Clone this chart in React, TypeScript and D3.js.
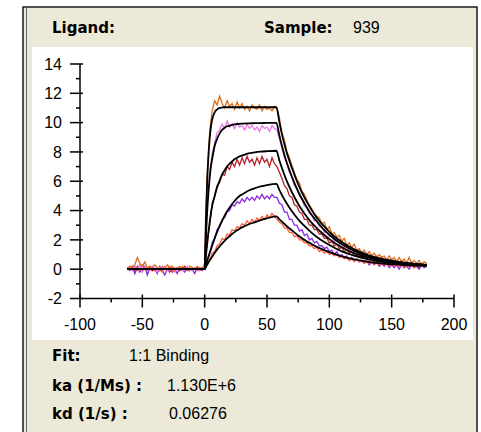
import React from 'react';
import * as d3 from 'd3';

// Sample times of the recorded sensorgrams (s)
const TIMES = d3.range(-62, 179, 2);

const ORANGE_DATA = [
  0.1, 0.2, 0.1, 0.3, 0.8, 0.4, 0.2, 0.5, 0.1, 0.2, 0.0, 0.3, 0.1, -0.1, 0.2, 0.0, 0.3, 0.1, 0.2, -0.1, 0.1, 0.2, 0.0, 0.1, -0.1, 0.2, 0.1, 0.0, 0.2, 0.1, 0.0,
  0.4, 6.3, 9.4, 10.8, 11.5, 11.2, 11.8, 11.3, 11.0, 11.5, 11.1, 11.3, 10.9, 11.4, 11.0, 11.3, 10.9, 11.1, 10.8, 11.2, 11.0, 10.9, 11.2, 10.8, 11.1, 10.9, 11.0, 10.8, 11.1,
  11.0, 10.3, 9.3, 8.8, 8.0, 7.6, 7.1, 6.6, 6.1, 5.9, 5.3, 5.1, 4.7, 4.4, 4.1, 3.8, 3.6, 3.5, 3.1, 3.2, 2.7, 2.9, 2.4, 2.5, 2.2, 2.3, 1.9, 2.1, 1.6, 1.8, 1.5, 1.7, 1.3, 1.4, 1.1, 1.3, 1.0, 1.2, 0.9, 1.1, 0.8, 1.0, 0.8, 0.9, 0.6, 0.9, 0.6, 0.8, 0.5, 0.8, 0.5, 0.7, 0.4, 0.8, 0.4, 0.6, 0.4, 0.6, 0.3, 0.5, 0.4,
];
const PINK_DATA = [
  0.0, 0.1, -0.1, 0.2, 0.0, 0.3, -0.2, 0.1, 0.0, -0.1, 0.2, 0.0, -0.2, 0.1, 0.0, 0.2, -0.1, 0.0, 0.1, -0.2, 0.0, 0.1, -0.1, 0.0, 0.2, -0.1, 0.0, 0.1, -0.1, 0.0, 0.1,
  0.2, 4.3, 6.6, 7.9, 8.6, 9.3, 9.5, 9.9, 9.6, 10.1, 9.7, 9.9, 9.6, 10.0, 9.7, 9.8, 9.5, 9.9, 9.6, 9.8, 9.5, 9.7, 9.4, 9.8, 9.6, 9.7, 9.4, 9.8, 9.6,
  9.5, 8.9, 8.3, 7.6, 7.2, 6.6, 6.3, 5.7, 5.5, 5.0, 4.8, 4.3, 4.2, 3.8, 3.7, 3.3, 3.3, 2.9, 2.9, 2.5, 2.5, 2.2, 2.3, 1.9, 2.0, 1.7, 1.8, 1.5, 1.6, 1.3, 1.5, 1.2, 1.3, 1.0, 1.2, 0.9, 1.0, 0.8, 1.0, 0.7, 0.9, 0.6, 0.8, 0.6, 0.7, 0.5, 0.7, 0.4, 0.6, 0.4, 0.6, 0.3, 0.5, 0.3, 0.5, 0.3, 0.4, 0.2, 0.4, 0.2, 0.4,
];
const RED_DATA = [
  0.1, 0.0, 0.1, -0.1, 0.2, 0.0, -0.1, 0.1, 0.0, 0.2, -0.1, 0.0, 0.1, -0.1, 0.0, 0.1, 0.0, -0.2, 0.1, 0.0, 0.1, -0.1, 0.0, 0.2, 0.0, -0.1, 0.1, 0.0, -0.1, 0.1, 0.0,
  0.1, 1.9, 3.0, 4.5, 4.9, 5.7, 5.9, 6.5, 6.4, 7.0, 6.8, 7.3, 7.0, 7.5, 7.1, 7.6, 7.2, 7.7, 7.3, 7.5, 7.1, 7.6, 7.2, 7.7, 7.3, 7.5, 7.0, 7.6, 7.2,
  7.0, 6.6, 6.2, 5.7, 5.5, 5.0, 4.9, 4.4, 4.3, 3.9, 3.8, 3.4, 3.4, 3.0, 3.0, 2.7, 2.7, 2.4, 2.4, 2.1, 2.1, 1.8, 1.9, 1.6, 1.7, 1.4, 1.5, 1.2, 1.3, 1.1, 1.2, 0.9, 1.0, 0.8, 0.9, 0.7, 0.8, 0.6, 0.7, 0.5, 0.7, 0.5, 0.6, 0.4, 0.5, 0.3, 0.5, 0.3, 0.4, 0.3, 0.4, 0.2, 0.4, 0.2, 0.3, 0.2, 0.3, 0.1, 0.3, 0.2, 0.3,
];
const PURPLE_DATA = [
  0.1, -0.1, 0.2, -0.3, 0.1, -0.2, 0.0, 0.2, -0.4, 0.1, -0.1, 0.0, -0.3, 0.2, -0.1, -0.4, 0.0, 0.1, -0.2, 0.0, -0.3, 0.1, 0.0, -0.2, 0.1, -0.1, 0.0, -0.3, 0.1, 0.0, -0.1,
  0.1, 0.7, 1.1, 1.8, 2.1, 2.7, 2.9, 3.4, 3.5, 3.9, 4.0, 4.4, 4.3, 4.6, 4.5, 4.8, 4.6, 4.9, 4.7, 4.9, 4.7, 5.0, 4.8, 5.1, 4.8, 5.0, 4.8, 5.1, 4.9,
  4.9, 4.5, 4.4, 3.9, 3.9, 3.4, 3.4, 3.0, 3.0, 2.6, 2.7, 2.3, 2.4, 2.0, 2.1, 1.8, 1.9, 1.6, 1.6, 1.4, 1.5, 1.2, 1.3, 1.0, 1.2, 0.9, 1.0, 0.8, 0.9, 0.6, 0.8, 0.6, 0.7, 0.5, 0.6, 0.4, 0.6, 0.3, 0.5, 0.3, 0.5, 0.2, 0.4, 0.2, 0.4, 0.1, 0.3, 0.1, 0.3, 0.0, 0.3, 0.1, 0.2, 0.0, 0.3, 0.1, 0.2, 0.0, 0.3, 0.1, 0.2,
];
const SALMON_DATA = [
  0.0, 0.1, 0.0, 0.2, -0.1, 0.0, 0.3, 0.1, -0.1, 0.0, 0.2, -0.1, 0.1, 0.0, -0.2, 0.1, 0.0, 0.2, -0.1, 0.1, 0.0, -0.1, 0.2, 0.0, 0.1, -0.1, 0.0, 0.1, 0.0, -0.1, 0.1,
  0.1, 0.5, 0.6, 1.1, 1.2, 1.6, 1.7, 2.1, 2.0, 2.4, 2.3, 2.7, 2.6, 2.9, 2.8, 3.1, 3.0, 3.3, 3.1, 3.4, 3.2, 3.5, 3.3, 3.6, 3.4, 3.7, 3.5, 3.8, 3.6,
  3.4, 3.2, 3.1, 2.8, 2.8, 2.5, 2.5, 2.2, 2.3, 2.0, 2.0, 1.8, 1.8, 1.6, 1.6, 1.4, 1.5, 1.2, 1.3, 1.1, 1.2, 1.0, 1.1, 0.9, 1.0, 0.8, 0.9, 0.7, 0.8, 0.6, 0.7, 0.5, 0.7, 0.5, 0.6, 0.4, 0.5, 0.4, 0.5, 0.3, 0.5, 0.3, 0.4, 0.3, 0.4, 0.2, 0.4, 0.2, 0.3, 0.2, 0.3, 0.1, 0.3, 0.2, 0.3, 0.1, 0.3, 0.2, 0.3, 0.2, 0.3,
];

// Fitted 1:1 binding curves (RU)
const FIT_TIMES = [-62, 0, 1, 2, 3, 4, 5, 6, 8, 10, 12, 14, 16, 18, 20, 22, 24, 26, 28, 30, 35, 40, 45, 50, 57.5, 60, 62, 65, 70, 75, 80, 85, 90, 95, 100, 110, 120, 130, 140, 150, 160, 170, 178];
const ORANGE_FIT = [0, 0, 3.5, 6.0, 7.7, 8.9, 9.7, 10.2, 10.7, 10.9, 11.0, 11.03, 11.05, 11.05, 11.05, 11.05, 11.05, 11.05, 11.05, 11.05, 11.05, 11.05, 11.05, 11.05, 11.05, 10.0, 9.2, 8.2, 6.9, 5.8, 4.9, 4.15, 3.5, 3.0, 2.55, 1.85, 1.35, 1.0, 0.75, 0.58, 0.45, 0.36, 0.3];
const PINK_FIT = [0, 0, 2.2, 3.9, 5.2, 6.2, 7.0, 7.5, 8.4, 8.9, 9.25, 9.5, 9.65, 9.75, 9.8, 9.85, 9.88, 9.9, 9.92, 9.93, 9.95, 9.96, 9.97, 9.98, 9.98, 9.1, 8.4, 7.5, 6.3, 5.3, 4.5, 3.8, 3.25, 2.75, 2.35, 1.7, 1.25, 0.93, 0.7, 0.54, 0.42, 0.34, 0.28];
const RED_FIT = [0, 0, 0.9, 1.7, 2.5, 3.2, 3.8, 4.3, 5.0, 5.6, 6.05, 6.45, 6.75, 7.0, 7.2, 7.35, 7.5, 7.6, 7.7, 7.75, 7.9, 7.97, 8.02, 8.05, 8.08, 7.4, 6.9, 6.2, 5.25, 4.45, 3.8, 3.25, 2.8, 2.4, 2.05, 1.5, 1.1, 0.83, 0.63, 0.49, 0.39, 0.32, 0.27];
const PURPLE_FIT = [0, 0, 0.28, 0.55, 0.82, 1.1, 1.35, 1.6, 2.1, 2.55, 2.95, 3.3, 3.65, 3.95, 4.2, 4.45, 4.65, 4.85, 5.0, 5.1, 5.35, 5.52, 5.65, 5.74, 5.82, 5.4, 5.05, 4.6, 3.95, 3.4, 2.95, 2.55, 2.2, 1.9, 1.65, 1.22, 0.92, 0.7, 0.54, 0.43, 0.35, 0.29, 0.25];
const SALMON_FIT = [0, 0, 0.15, 0.3, 0.45, 0.6, 0.72, 0.85, 1.1, 1.35, 1.55, 1.75, 1.93, 2.1, 2.25, 2.4, 2.53, 2.65, 2.76, 2.85, 3.05, 3.2, 3.35, 3.47, 3.6, 3.4, 3.25, 3.0, 2.65, 2.3, 2.0, 1.75, 1.52, 1.33, 1.16, 0.88, 0.67, 0.52, 0.41, 0.34, 0.28, 0.24, 0.22];

const SERIES_COLORS = ['#8a2be2', '#ff5a3a', '#b5202a', '#e878e8', '#de6e1c'];
const SERIES_DATA = [PURPLE_DATA, SALMON_DATA, RED_DATA, PINK_DATA, ORANGE_DATA];
const SERIES_FITS = [PURPLE_FIT, SALMON_FIT, RED_FIT, PINK_FIT, ORANGE_FIT];

const X_TICKS = [-100, -50, 0, 50, 100, 150, 200];
const X_MINOR = [-75, -25, 25, 75, 125, 175];
const Y_TICKS = [-2, 0, 2, 4, 6, 8, 10, 12, 14];
const Y_MINOR = [-1, 1, 3, 5, 7, 9, 11, 13];

const HEADER_LIGAND = 'Ligand:';
const HEADER_SAMPLE = 'Sample:';
const SAMPLE_VALUE = '939';
const FIT_LABEL = 'Fit:';
const FIT_VALUE = '1:1 Binding';
const KA_LABEL = 'ka (1/Ms) :';
const KA_VALUE = '1.130E+6';
const KD_LABEL = 'kd (1/s) :';
const KD_VALUE = '0.06276';

const BOLD = "'DejaVu Sans', Verdana, sans-serif";
const REG = "'Liberation Sans', Arial, sans-serif";

export default function App() {
  const x = d3.scaleLinear().domain([-100, 200]).range([80, 454]);
  const y = d3.scaleLinear().domain([-2, 14]).range([298.5, 64]);

  const dataLine = d3
    .line<number>()
    .x((_, i) => x(TIMES[i]))
    .y((d) => y(d));
  const fitLine = d3
    .line<number>()
    .x((_, i) => x(FIT_TIMES[i]))
    .y((d) => y(d))
    .curve(d3.curveMonotoneX);

  const y0 = y(-2);

  return (
    <svg
      width={481}
      height={432}
      style={{ position: 'absolute', left: 0, top: 0, display: 'block' }}
    >
      <rect x={0} y={0} width={481} height={432} fill="#ffffff" />
      <rect x={23} y={7} width={454} height={432} fill="#ECE9D8" stroke="#1a1a1a" strokeWidth={1.5} />
      <line x1={26.5} y1={8} x2={26.5} y2={432} stroke="#6a6a6a" strokeWidth={1} />
      <rect x={32} y={47} width={441} height={293} fill="#ffffff" />

      <text x={52} y={33} fontFamily={BOLD} fontWeight="bold" fontSize={15} fill="#000">{HEADER_LIGAND}</text>
      <text x={264} y={33} fontFamily={BOLD} fontWeight="bold" fontSize={15} fill="#000">{HEADER_SAMPLE}</text>
      <text x={353} y={33} fontFamily={REG} fontSize={16} fill="#000">{SAMPLE_VALUE}</text>

      {/* axes */}
      <g stroke="#000" strokeWidth={1.5}>
        <line x1={x(-100)} y1={y(-2)} x2={x(-100)} y2={y(14)} />
        <line x1={x(-100)} y1={y0} x2={x(200)} y2={y0} />
        {Y_TICKS.map((t) => (
          <line key={'ym' + t} x1={70} x2={83} y1={y(t)} y2={y(t)} />
        ))}
        {Y_MINOR.map((t) => (
          <line key={'yn' + t} x1={76} x2={80} y1={y(t)} y2={y(t)} />
        ))}
        {X_TICKS.map((t) => (
          <line key={'xm' + t} x1={x(t)} x2={x(t)} y1={y0 - 4} y2={y0 + 9} />
        ))}
        {X_MINOR.map((t) => (
          <line key={'xn' + t} x1={x(t)} x2={x(t)} y1={y0} y2={y0 + 4} />
        ))}
      </g>
      {Y_TICKS.map((t) => (
        <text key={'yl' + t} x={62} y={y(t)} dy="0.36em" textAnchor="end" fontFamily={REG} fontSize={16} fill="#000">
          {t}
        </text>
      ))}
      {X_TICKS.map((t) => (
        <text key={'xl' + t} x={x(t)} y={330} textAnchor="middle" fontFamily={REG} fontSize={16} fill="#000">
          {t}
        </text>
      ))}

      {/* recorded curves */}
      {SERIES_DATA.map((vals, i) => (
        <path key={'d' + i} d={dataLine(vals) || ''} fill="none" stroke={SERIES_COLORS[i]} strokeWidth={1.3} strokeLinejoin="miter" />
      ))}
      {/* fits */}
      {SERIES_FITS.map((vals, i) => (
        <path key={'f' + i} d={fitLine(vals) || ''} fill="none" stroke="#000" strokeWidth={1.8} />
      ))}

      <text x={52} y={361} fontFamily={BOLD} fontWeight="bold" fontSize={15} fill="#000">{FIT_LABEL}</text>
      <text x={129} y={361} fontFamily={REG} fontSize={16} fill="#000">{FIT_VALUE}</text>
      <text x={52} y={391} fontFamily={BOLD} fontWeight="bold" fontSize={15} fill="#000">{KA_LABEL}</text>
      <text x={167} y={391} fontFamily={REG} fontSize={16} fill="#000">{KA_VALUE}</text>
      <text x={52} y={419} fontFamily={BOLD} fontWeight="bold" fontSize={15} fill="#000">{KD_LABEL}</text>
      <text x={169} y={419} fontFamily={REG} fontSize={16} fill="#000">{KD_VALUE}</text>
    </svg>
  );
}
